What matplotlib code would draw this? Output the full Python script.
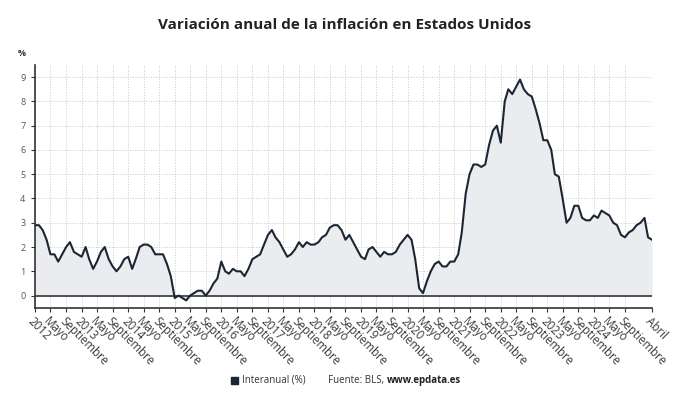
import matplotlib
matplotlib.use("Agg")
import matplotlib.pyplot as plt
import pandas as pd
import numpy as np

plt.rcParams['font.family'] = ['Open Sans', 'DejaVu Sans']

# Monthly year-on-year inflation (%) Jan 2012 - Apr 2025
v2012 = [2.9, 2.9, 2.7, 2.3, 1.7, 1.7, 1.4, 1.7, 2.0, 2.2, 1.8, 1.7]
v2013 = [1.6, 2.0, 1.5, 1.1, 1.4, 1.8, 2.0, 1.5, 1.2, 1.0, 1.2, 1.5]
v2014 = [1.6, 1.1, 1.5, 2.0, 2.1, 2.1, 2.0, 1.7, 1.7, 1.7, 1.3, 0.8]
v2015 = [-0.1, 0.0, -0.1, -0.2, 0.0, 0.1, 0.2, 0.2, 0.0, 0.2, 0.5, 0.7]
v2016 = [1.4, 1.0, 0.9, 1.1, 1.0, 1.0, 0.8, 1.1, 1.5, 1.6, 1.7, 2.1]
v2017 = [2.5, 2.7, 2.4, 2.2, 1.9, 1.6, 1.7, 1.9, 2.2, 2.0, 2.2, 2.1]
v2018 = [2.1, 2.2, 2.4, 2.5, 2.8, 2.9, 2.9, 2.7, 2.3, 2.5, 2.2, 1.9]
v2019 = [1.6, 1.5, 1.9, 2.0, 1.8, 1.6, 1.8, 1.7, 1.7, 1.8, 2.1, 2.3]
v2020 = [2.5, 2.3, 1.5, 0.3, 0.1, 0.6, 1.0, 1.3, 1.4, 1.2, 1.2, 1.4]
v2021 = [1.4, 1.7, 2.6, 4.2, 5.0, 5.4, 5.4, 5.3, 5.4, 6.2, 6.8, 7.0]
v2022 = [6.3, 8.0, 8.5, 8.3, 8.6, 8.9, 8.5, 8.3, 8.2, 7.7, 7.1, 6.4]
v2023 = [6.4, 6.0, 5.0, 4.9, 4.0, 3.0, 3.2, 3.7, 3.7, 3.2, 3.1, 3.1]
v2024 = [3.3, 3.2, 3.5, 3.4, 3.3, 3.0, 2.9, 2.5, 2.4, 2.6, 2.7, 2.9]
v2025 = [3.0, 3.2, 2.4, 2.3]

values = v2012 + v2013 + v2014 + v2015 + v2016 + v2017 + v2018 + v2019 + \
    v2020 + v2021 + v2022 + v2023 + v2024 + v2025
dates = pd.date_range("2012-01-01", periods=len(values), freq="MS")

years = list(range(2012, 2025))
month_names = {1: None, 5: "Mayo", 9: "Septiembre"}
y_ticks = list(range(0, 10))

title = "Variación anual de la inflación en Estados Unidos"
legend_label = "Interanual (%)"

line_color = "#1c2633"
fill_color = "#eaecef"

fig = plt.figure(figsize=(6.9, 4.05), dpi=100)
ax = fig.add_axes([35 / 690, 1 - 307.7 / 405, (652 - 35) / 690, (307.7 - 65) / 405])

ax.fill_between(dates, values, 0, color=fill_color, lw=0, zorder=1)
ax.plot(dates, values, color=line_color, lw=1.5, zorder=3)
ax.axhline(0, color="#444444", lw=1.3, zorder=2)

# ticks
tick_dates, tick_labels = [], []
for y in years:
    for m in (1, 5, 9):
        tick_dates.append(pd.Timestamp(y, m, 1))
        tick_labels.append(str(y) if m == 1 else month_names[m])
tick_dates.append(dates[-1])
tick_labels.append("Abril")

ax.set_xlim(dates[0], dates[-1])
ax.set_ylim(-0.5, 9.5)
ax.set_xticks(tick_dates)
ax.set_xticklabels(tick_labels, rotation=-45, ha="left", va="top",
                   rotation_mode="anchor", fontsize=8.3, color="#3a3a3a")
ax.set_yticks(y_ticks)
ax.set_yticklabels([str(t) for t in y_ticks], fontsize=6.5, color="#555555")

ax.tick_params(axis="x", length=3, width=0.8, color="#333333", pad=2)
ax.tick_params(axis="y", length=3, width=0.8, color="#333333", pad=4)

ax.grid(True, color="#cfcfcf", lw=0.7, linestyle=(0, (1.2, 1.5)), zorder=0)
ax.set_axisbelow(True)

for s in ("top", "right"):
    ax.spines[s].set_visible(False)
for s in ("left", "bottom"):
    ax.spines[s].set_color("#333333")
    ax.spines[s].set_linewidth(1.2)

fig.text(0.5, 1 - 25 / 405, title, ha="center", va="center",
         fontsize=11, fontweight="bold", color="#222222")
fig.text(18 / 690, 1 - 53 / 405, "%", ha="left", va="center",
         fontsize=6.5, fontweight="bold", color="#333333")

# legend / source line
fig.patches.append(plt.Rectangle((231 / 690, 1 - 384 / 405), 7 / 690, 7 / 405,
                                 transform=fig.transFigure, color=line_color))
fig.text(242 / 690, 1 - 380.5 / 405, legend_label, ha="left", va="center",
         fontsize=7, color="#333333")
t1 = fig.text(328 / 690, 1 - 380.5 / 405, "Fuente: BLS, ", ha="left", va="center",
              fontsize=7, color="#333333")
fig.canvas.draw()
bb = t1.get_window_extent()
fig.text(bb.x1 / fig.bbox.width, 1 - 380.5 / 405, "www.epdata.es", ha="left",
         va="center", fontsize=7, fontweight="bold", color="#222222")

fig.savefig("out.png", dpi=100)
